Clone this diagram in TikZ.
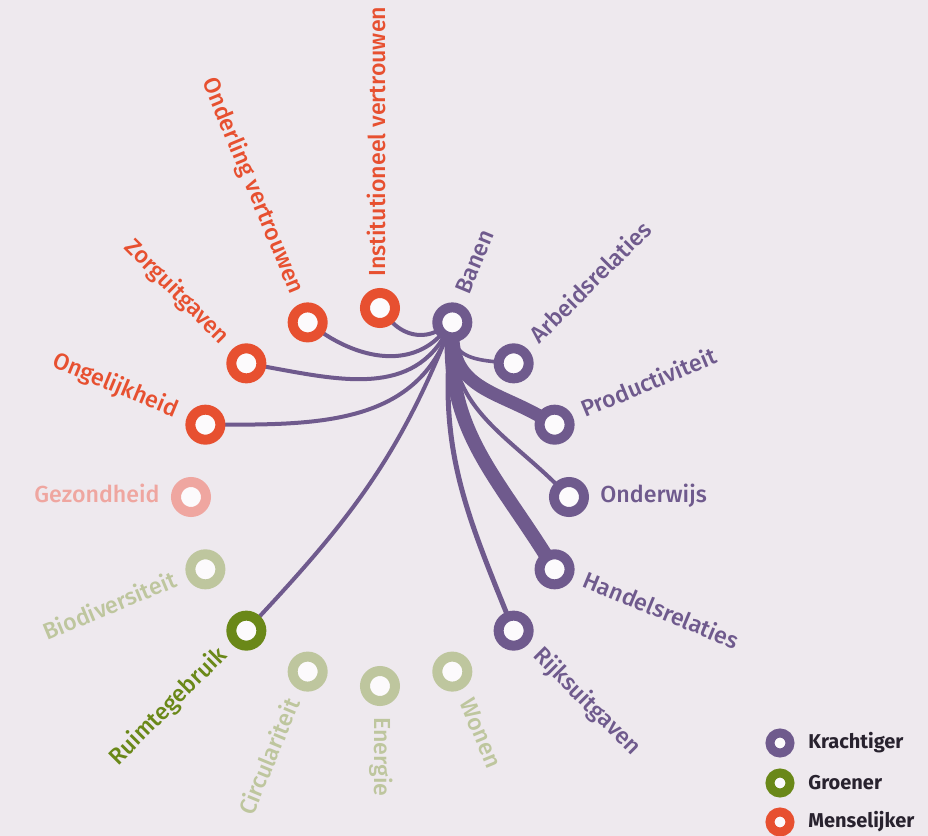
\documentclass[tikz,border=0pt]{standalone}
\usepackage{fontspec}
\setmainfont{Fira Sans}
\newfontfamily\medfont{Fira Sans Medium}
\usetikzlibrary{positioning}

\definecolor{krachtig}{RGB}{111,90,141}
\definecolor{groen}{RGB}{106,136,24}
\definecolor{mens}{RGB}{231,80,48}
\definecolor{groenvaag}{RGB}{190,198,158}
\definecolor{mensvaag}{RGB}{239,166,160}
\definecolor{achtergrond}{RGB}{238,233,238}
\definecolor{gat}{RGB}{252,250,252}
\definecolor{legtekst}{RGB}{40,34,46}

\pgfdeclarelayer{back}
\pgfdeclarelayer{lines}
\pgfsetlayers{back,lines,main}

\tikzset{
  ring/.style={circle, draw=#1, line width=5pt, fill=gat, minimum size=15pt,
    inner sep=0pt, outer sep=0pt},
  legring/.style={circle, draw=#1, line width=4.5pt, fill=gat, minimum size=10pt,
    inner sep=0pt, outer sep=0pt},
  rtext/.style={text=#1, font=\medfont\fontsize{11.6}{13}\selectfont, inner sep=0pt},
  legtext/.style={text=legtekst, font=\fontsize{10}{12}\selectfont\bfseries,
    inner sep=0pt},
}

\begin{document}
\begin{tikzpicture}[x=0.5pt, y=0.5pt]

      \useasboundingbox (-380,-339) rectangle (548,497);
      \begin{pgfonlayer}{back}
        \fill[achtergrond] (-380,-339) rectangle (548,497);
      \end{pgfonlayer}

      \node[ring=mens]      (inst)    at (90:189)     {};
      \node[ring=krachtig]  (banen)   at (67.5:189)   {};
      \node[ring=krachtig]  (arbeid)  at (45:189)     {};
      \node[ring=krachtig]  (prod)    at (22.5:189)   {};
      \node[ring=krachtig]  (onderw)  at (0:189)      {};
      \node[ring=krachtig]  (handel)  at (-22.5:189)  {};
      \node[ring=krachtig]  (rijks)   at (-45:189)    {};
      \node[ring=groenvaag] (wonen)   at (-67.5:189)  {};
      \node[ring=groenvaag] (energie) at (-90:189)    {};
      \node[ring=groenvaag] (circ)    at (-112.5:189) {};
      \node[ring=groen]     (ruimte)  at (-135:189)   {};
      \node[ring=groenvaag] (bio)     at (-157.5:189) {};
      \node[ring=mensvaag]  (gezond)  at (180:189)    {};
      \node[ring=mens]      (ongel)   at (157.5:189)  {};
      \node[ring=mens]      (zorg)    at (135:189)    {};
      \node[ring=mens]      (onderl)  at (112.5:189)  {};

      \begin{scope}[every node/.style={anchor=mid west}]
        \node[rtext=mens, rotate=90]       (inst-t)    at (90:220)    {Institutioneel vertrouwen};
        \node[rtext=krachtig, rotate=67.5] (banen-t)   at (67.5:220)  {Banen};
        \node[rtext=krachtig, rotate=45]   (arbeid-t)  at (45:220)    {Arbeidsrelaties};
        \node[rtext=krachtig, rotate=22.5] (prod-t)    at (22.5:220)  {Productiviteit};
        \node[rtext=krachtig]              (onderw-t)  at (0:220)     {Onderwijs};
        \node[rtext=krachtig, rotate=-22.5] (handel-t) at (-22.5:220) {Handelsrelaties};
        \node[rtext=krachtig, rotate=-45]  (rijks-t)   at (-45:220)   {Rijksuitgaven};
        \node[rtext=groenvaag, rotate=-67.5] (wonen-t) at (-67.5:220) {Wonen};
        \node[rtext=groenvaag, rotate=-90] (energie-t) at (-90:220)   {Energie};
      \end{scope}

      \begin{scope}[every node/.style={anchor=mid east}]
        \node[rtext=groenvaag, rotate=67.5] (circ-t)   at (-112.5:220) {Circulariteit};
        \node[rtext=groen, rotate=45]      (ruimte-t)  at (-135:220)   {Ruimtegebruik};
        \node[rtext=groenvaag, rotate=22.5] (bio-t)    at (-157.5:220) {Biodiversiteit};
        \node[rtext=mensvaag]              (gezond-t)  at (180:220)    {Gezondheid};
        \node[rtext=mens, rotate=-22.5]    (ongel-t)   at (157.5:220)  {Ongelijkheid};
        \node[rtext=mens, rotate=-45]      (zorg-t)    at (135:220)    {Zorguitgaven};
        \node[rtext=mens, rotate=-67.5]    (onderl-t)  at (112.5:220)  {Onderling vertrouwen};
      \end{scope}

      \begin{pgfonlayer}{lines}
        \begin{scope}[every edge/.style={draw=krachtig, line width=2pt}]
          \path (banen) edge[out=-150, in=-50] (inst);
          \path (banen) edge[out=-132, in=-35] (onderl);
          \path (banen) edge[out=-120, in=-10] (zorg);
          \path (banen) edge[out=-112, in=0]   (ongel);
          \path (banen) edge[out=-112, in=47]  (ruimte);
          \path (banen) edge[out=-85, in=175, line width=1.8pt] (arbeid);
          \path (banen) edge[out=-88, in=150, line width=6.5pt, looseness=1.1] (prod);
          \path (banen) edge[out=-90, in=135]  (onderw);
          \path (banen) edge[out=-92, in=122, line width=7pt] (handel);
          \path (banen) edge[out=-96, in=112, line width=2.5pt] (rijks);
        \end{scope}
      \end{pgfonlayer}

      \node[legring=krachtig] (kr) at (400,-246) {};
      \node[legring=groen]    (gr) at (400,-286) {};
      \node[legring=mens]     (me) at (400,-325) {};
      \node[legtext, right=9pt of kr] (kr-t) {Krachtiger};
      \node[legtext, right=9pt of gr] (gr-t) {Groener};
      \node[legtext, right=9pt of me] (me-t) {Menselijker};

    \end{tikzpicture}
\end{document}
